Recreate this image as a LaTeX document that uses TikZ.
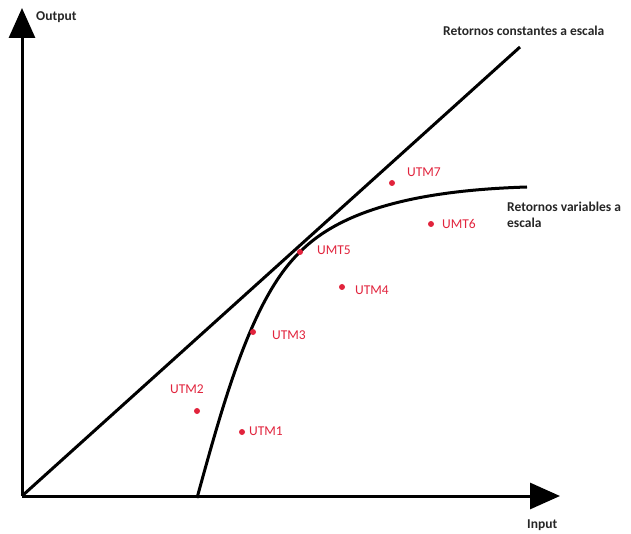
\documentclass[tikz,border=0pt]{standalone}
\usepackage{fontspec}
\setmainfont{Carlito}
\usetikzlibrary{arrows.meta}
\definecolor{ptred}{RGB}{225,35,60}
\tikzset{
  axis/.style={line width=3pt, -{Triangle[length=30pt,width=26pt]}},
  curve/.style={line width=3pt},
  dot/.style={circle, fill=ptred, inner sep=0pt, minimum size=6pt},
  ptlabel/.style={text=ptred, font=\fontsize{13.5}{16}\selectfont, inner sep=0pt, anchor=west},
  txt/.style={font=\bfseries\fontsize{13.5}{16}\selectfont, text=black!85, inner sep=0pt},
}
\begin{document}
\begin{tikzpicture}[x=1pt,y=-1pt]
\useasboundingbox (0,0) rectangle (631,534);
\coordinate (O) at (22,496);
\coordinate (ytip) at (22,8);
\coordinate (xtip) at (560,496);
\coordinate (crsend) at (520,47);
\coordinate (vrs0) at (197,498);
\coordinate (vrs1) at (300,252);
\coordinate (vrs2) at (527,187);
% axes
\draw[axis] (O) -- (ytip);
\draw[axis] (O) -- (xtip);
% constant returns
\draw[curve] (O) -- (crsend);
% variable returns
\draw[curve] (vrs0) .. controls (224,400) and (252,298) .. (vrs1)
  .. controls (345,206) and (430,190) .. (vrs2);
% axis labels
\node[txt, anchor=west] (out) at (36,17) {Output};
\node[txt, anchor=west] (inp) at (527,525) {Input};
\node[txt, anchor=west] (crs) at (443,31) {Retornos constantes a escala};
\node[txt, anchor=north west, align=left] (vrs) at (507,202) {Retornos variables a\\escala};
% points
\node[dot] (p7) at (392,183) {};
\node[ptlabel] (l7) at (407,172) {UTM7};
\node[dot] (p6) at (431,224) {};
\node[ptlabel] (l6) at (442,224) {UMT6};
\node[dot] (p5) at (300,252) {};
\node[ptlabel] (l5) at (317,250) {UMT5};
\node[dot] (p4) at (342,287) {};
\node[ptlabel] (l4) at (355,290) {UTM4};
\node[dot] (p3) at (253,332) {};
\node[ptlabel] (l3) at (272,335) {UTM3};
\node[dot] (p2) at (197,411) {};
\node[ptlabel] (l2) at (170,389) {UTM2};
\node[dot] (p1) at (242,432) {};
\node[ptlabel] (l1) at (249,431) {UTM1};
\end{tikzpicture}
\end{document}
